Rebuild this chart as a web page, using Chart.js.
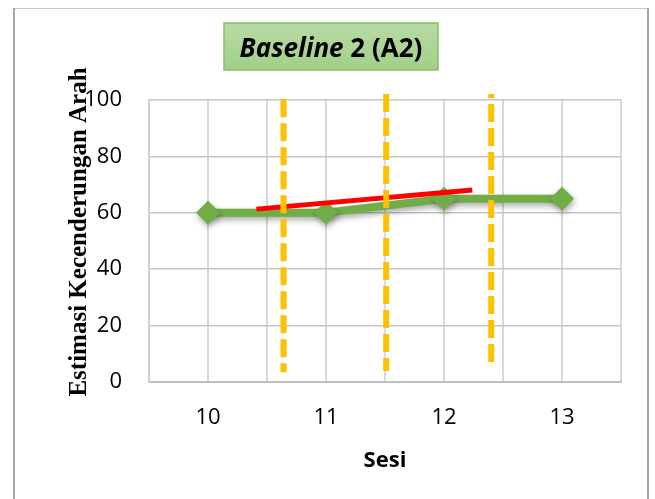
<!DOCTYPE html>
<html>
<head>
<meta charset="utf-8">
<script src="https://cdn.jsdelivr.net/npm/chart.js@4/dist/chart.umd.min.js"></script>
<style>
  html, body { margin: 0; padding: 0; background: #ffffff; }
  #wrap { position: relative; width: 655px; height: 499px; }
</style>
</head>
<body>
<div id="wrap"><canvas id="chart" width="655" height="499"></canvas></div>
<script>
// Session numbers and the scores recorded in each session
const sessions = [10, 11, 12, 13];
const scores = [60, 60, 65, 65];

// Trend (direction estimate) line: start and end
const trendX = [10.41, 12.24];
const trendY = [61.3, 68.1];

// Dashed split-middle guide lines: x position, top and bottom value
const guideX = [10.64, 11.51, 12.40];
const guideTop = [100.3, 102.1, 102.1];
const guideBottom = [3.5, 3.9, 7.1];
const guideDashOffset = [0, 0, 14];

// Axis ticks and text
const xTickLabels = [10, 11, 12, 13];
const yTicks = [0, 20, 40, 60, 80, 100];
const titleItalic = 'Baseline';
const titleRest = ' 2 (A2)';
const yTitle = 'Estimasi Kecenderungan Arah';
const xTitle = 'Sesi';

const SANS = '"Open Sans", "Liberation Sans", sans-serif';
const SERIF = '"Liberation Serif", "DejaVu Serif", serif';

const guideSets = guideX.map((gx, i) => ({
  label: 'guide' + (i + 1),
  data: [{ x: gx, y: guideTop[i] }, { x: gx, y: guideBottom[i] }],
  borderColor: '#FFC000',
  borderWidth: 6,
  borderDash: [18, 6],
  borderDashOffset: guideDashOffset[i],
  borderCapStyle: 'butt',
  pointRadius: 0,
  clip: false,
  order: 1
}));

const trendSet = {
  label: 'trend',
  data: trendX.map((x, i) => ({ x: x, y: trendY[i] })),
  borderColor: '#FF0000',
  borderWidth: 5,
  borderCapStyle: 'butt',
  pointRadius: 0,
  order: 2
};

const scoreSet = {
  label: 'score',
  data: sessions.map((s, i) => ({ x: s, y: scores[i] })),
  borderColor: '#70AD47',
  borderWidth: 8,
  pointStyle: 'rectRot',
  pointRadius: 12,
  pointBackgroundColor: '#70AD47',
  pointBorderColor: '#70AD47',
  pointBorderWidth: 0,
  order: 3
};

// Soft shadow under the score series
const shadowPlugin = {
  id: 'seriesShadow',
  beforeDatasetDraw(chart, args) {
    if (chart.data.datasets[args.index].label !== 'score') return;
    const ctx = chart.ctx;
    ctx.save();
    ctx.shadowColor = 'rgba(0,0,0,0.35)';
    ctx.shadowBlur = 6;
    ctx.shadowOffsetX = 1;
    ctx.shadowOffsetY = 3;
  },
  afterDatasetDraw(chart, args) {
    if (chart.data.datasets[args.index].label !== 'score') return;
    chart.ctx.restore();
  }
};

// Outer frame, title box and rotated y-axis title
const decorPlugin = {
  id: 'decor',
  beforeDraw(chart) {
    const ctx = chart.ctx;
    ctx.save();
    ctx.fillStyle = '#ffffff';
    ctx.fillRect(0, 0, chart.width, chart.height);
    ctx.strokeStyle = '#c8c8c8';
    ctx.lineWidth = 1;
    ctx.beginPath();
    ctx.moveTo(14, 8.5); ctx.lineTo(648, 8.5);
    ctx.stroke();
    ctx.strokeStyle = '#a6a6a6';
    ctx.lineWidth = 2;
    ctx.beginPath();
    ctx.moveTo(14, 8); ctx.lineTo(14, chart.height);
    ctx.moveTo(648, 8); ctx.lineTo(648, chart.height);
    ctx.stroke();
    ctx.restore();
  },
  afterDraw(chart) {
    const ctx = chart.ctx;
    const area = chart.chartArea;
    ctx.save();
    // title box
    const bx = 224, by = 23, bw = 214, bh = 47;
    const g = ctx.createLinearGradient(0, by, 0, by + bh);
    g.addColorStop(0, '#b8dba6');
    g.addColorStop(1, '#a2cf88');
    ctx.fillStyle = g;
    ctx.fillRect(bx, by, bw, bh);
    ctx.strokeStyle = '#86c06a';
    ctx.lineWidth = 1.5;
    ctx.strokeRect(bx, by, bw, bh);
    ctx.fillStyle = '#000000';
    ctx.textBaseline = 'alphabetic';
    const f1 = 'italic bold 26px ' + SANS;
    const f2 = 'bold 26px ' + SANS;
    ctx.font = f1;
    const w1 = ctx.measureText(titleItalic).width;
    ctx.font = f2;
    const w2 = ctx.measureText(titleRest).width;
    let tx = bx + (bw - w1 - w2) / 2;
    ctx.font = f1;
    ctx.fillText(titleItalic, tx, 57);
    ctx.font = f2;
    ctx.fillText(titleRest, tx + w1, 57);
    // y-axis title
    ctx.translate(86, (area.top + area.bottom) / 2 - 9);
    ctx.rotate(-Math.PI / 2);
    ctx.font = 'bold 25px ' + SERIF;
    ctx.textAlign = 'center';
    ctx.fillText(yTitle, 0, 0);
    ctx.restore();
  }
};

new Chart(document.getElementById('chart'), {
  type: 'line',
  data: { datasets: [...guideSets, trendSet, scoreSet] },
  plugins: [shadowPlugin, decorPlugin],
  options: {
    responsive: false,
    devicePixelRatio: 1,
    animation: false,
    layout: { padding: { top: 100, right: 34, bottom: 0, left: 0 } },
    plugins: { legend: { display: false }, tooltip: { enabled: false }, title: { display: false } },
    scales: {
      x: {
        type: 'linear',
        min: 9.5,
        max: 13.5,
        afterBuildTicks(scale) {
          const t = [];
          for (let v = 9.5; v <= 13.5001; v += 0.5) t.push({ value: v });
          scale.ticks = t;
        },
        afterFit(scale) { scale.height = 117; },
        ticks: {
          autoSkip: false,
          maxRotation: 0,
          padding: 23,
          color: '#000000',
          font: { family: SANS, size: 22 },
          callback: (v) => xTickLabels.includes(v) ? String(v) : ''
        },
        grid: { color: '#d9d9d9', lineWidth: 2, drawTicks: false },
        border: { color: '#bfbfbf', width: 2 },
        title: {
          display: true,
          text: xTitle,
          color: '#000000',
          font: { family: SANS, size: 22, weight: 'bold' },
          padding: { top: 0, bottom: 25 }
        }
      },
      y: {
        min: 0,
        max: 100,
        afterBuildTicks(scale) { scale.ticks = yTicks.map(v => ({ value: v })); },
        afterFit(scale) { scale.width = 149; },
        ticks: {
          padding: 27,
          color: '#000000',
          font: { family: SANS, size: 22 }
        },
        grid: { color: '#c6c6c6', lineWidth: 1.5, drawTicks: false },
        border: { color: '#d0d0d0', width: 2 }
      }
    }
  }
});
</script>
</body>
</html>
